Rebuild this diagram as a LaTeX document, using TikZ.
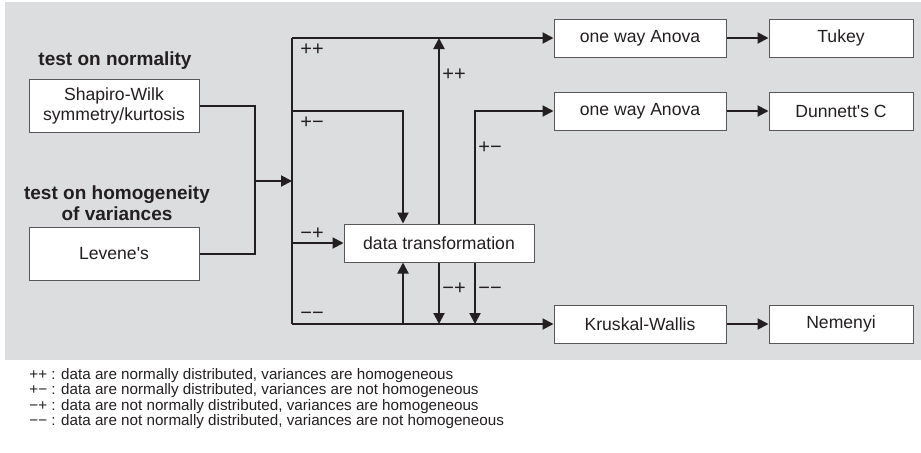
\documentclass[tikz,border=0pt]{standalone}
\usepackage{fontspec}
\setmainfont{Liberation Sans}[Ligatures=TeXOff]
\usetikzlibrary{positioning,arrows.meta}
\definecolor{panelgray}{HTML}{DCDDDF}
\definecolor{inkdark}{HTML}{231F20}

\begin{document}
\begin{tikzpicture}[x=0.5pt, y=-0.5pt,
    testBox/.style={rectangle, draw=inkdark!75, fill=white, line width=0.5pt, minimum width=85pt, minimum height=26.5pt, align=center, font=\fontsize{8.8}{10}\selectfont, text=inkdark, inner sep=0pt},
    resBox/.style={testBox, minimum width=86pt, minimum height=19pt},
    postBox/.style={testBox, minimum width=72pt, minimum height=19pt},
    headText/.style={align=center, font=\fontsize{9.5}{10.5}\selectfont\bfseries, text=inkdark, inner sep=0pt},
    signText/.style={font=\fontsize{10}{10}\selectfont, text=inkdark, inner sep=0pt, text height=0.6em, text depth=0pt},
    legendText/.style={align=left, font=\fontsize{7.6}{7.7}\selectfont, text=inkdark, inner sep=0pt},
    flowLine/.style={draw=inkdark, line width=1pt},
    flowArrow/.style={flowLine, -{Triangle[length=5.5pt,width=5.5pt]}}
]
    \useasboundingbox (0,0) rectangle (921,452);
    \fill[panelgray] (5,2) rectangle (921,360);

    % tests
    \node[headText] (headNorm) at (115,61) {test on normality};
    \node[testBox] (shapiro) at (114,106) {Shapiro-Wilk\\symmetry/kurtosis};
    \node[headText] (headHomo) at (117,203) {test on homogeneity\\of variances};
    \node[testBox] (levene) at (114,254) {Levene's};

    % outcomes
    \node[resBox] (anovaA) at (640,38) {one way Anova};
    \node[postBox, right=21pt of anovaA] (tukey) {Tukey};
    \node[resBox] (anovaB) at (640,111) {one way Anova};
    \node[postBox, right=21pt of anovaB] (dunnett) {Dunnett's C};
    \node[resBox] (kruskal) at (640,324) {Kruskal-Wallis};
    \node[postBox, right=21pt of kruskal] (nemenyi) {Nemenyi};
    \node[testBox, minimum width=95pt, minimum height=19pt] (dtrans) at (439,243) {data transformation};

    \coordinate (joinIn) at (255,181);
    \coordinate (splitTop) at (292,38);
    \coordinate (splitPM) at (292,111);
    \coordinate (splitBot) at (292,324);
    \coordinate (dtLeftTop) at ([xshift=-18pt]dtrans.north);
    \coordinate (dtLeftBot) at ([xshift=-18pt]dtrans.south);
    \coordinate (dtRightTop) at ([xshift=18pt]dtrans.north);
    \coordinate (dtRightBot) at ([xshift=18pt]dtrans.south);

    \draw[flowLine] (shapiro.east) -| (joinIn);
    \draw[flowLine] (levene.east) -| (joinIn);
    \draw[flowArrow] (joinIn) -- (joinIn -| splitTop);
    \draw[flowLine] (splitTop) -- (splitBot);
    \draw[flowArrow] (splitTop) -- (anovaA.west);
    \draw[flowArrow] (splitBot) -- (kruskal.west);
    \draw[flowArrow] (splitPM) -| (dtLeftTop);
    \draw[flowArrow] (dtrans.west -| splitTop) -- (dtrans.west);
    \draw[flowArrow] (dtLeftBot |- splitBot) -- (dtLeftBot);

    % after transformation
    \draw[flowArrow] (dtrans.north) -- (dtrans.north |- splitTop);
    \draw[flowArrow] (dtRightTop) |- (anovaB.west);
    \draw[flowArrow] (dtrans.south) -- (dtrans.south |- splitBot);
    \draw[flowArrow] (dtRightBot) -- (dtRightBot |- splitBot);

    \draw[flowArrow] (anovaA) -- (tukey);
    \draw[flowArrow] (anovaB) -- (dunnett);
    \draw[flowArrow] (kruskal) -- (nemenyi);

    % signs
    \node[signText] (signPP) at (312,49) {++};
    \node[signText] (signPM) at (312,122) {+−};
    \node[signText] (signMP) at (312,233) {−+};
    \node[signText] (signMM) at (312,313) {−−};
    \node[signText] (signPPb) at (454,74) {++};
    \node[signText] (signPMb) at (490,147) {+−};
    \node[signText] (signMPb) at (454,288) {−+};
    \node[signText] (signMMb) at (490,288) {−−};

    \node[legendText, anchor=north west] (legend) at (29,368) {++ : data are normally distributed, variances are homogeneous\\
        +− : data are normally distributed, variances are not homogeneous\\
        −+ : data are not normally distributed, variances are homogeneous\\
        −− : data are not normally distributed, variances are not homogeneous};
\end{tikzpicture}
\end{document}
